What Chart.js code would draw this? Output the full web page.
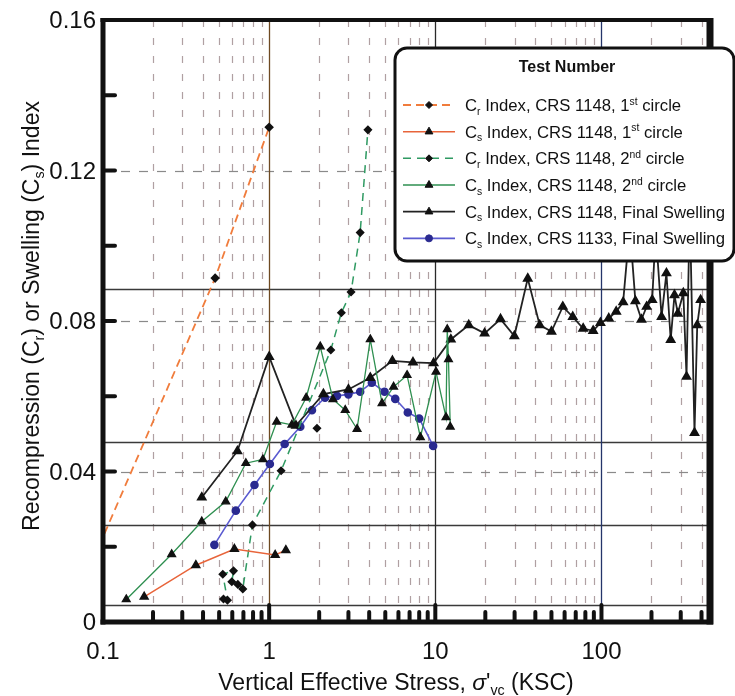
<!DOCTYPE html>
<html>
<head>
<meta charset="utf-8">
<script src="https://cdn.jsdelivr.net/npm/chart.js@4"></script>
<style>
  html, body { margin: 0; padding: 0; background: #fff; }
  canvas { display: block; }
</style>
</head>
<body>
<canvas id="grafico" width="735" height="696"></canvas>
<script>
// Valores (x = tensão em KSC, y = índice)
const crPrimeiroX = [0.095, 0.473, 1.0];
const crPrimeiroY = [0.0203, 0.0914, 0.1315];

const csPrimeiroX = [0.177, 0.362, 0.618, 1.087, 1.26];
const csPrimeiroY = [0.0067, 0.0151, 0.0194, 0.0178, 0.0191];

// o null separa o ponto solto do resto da linha
const crSegundoX = [1.94, 1.9, 0.531, 0.561, 0.526, 0.61, 0.596, 0.648, 0.694, 0.793, 1.18, 2.35, 2.72, 3.11, 3.53, 3.93];
const crSegundoY = [0.0515, null, 0.0061, 0.0058, 0.0127, 0.0136, 0.0107, 0.0100, 0.0088, 0.0258, 0.0402, 0.0723, 0.0822, 0.0877, 0.1035, 0.1308];

const csSegundoX = [0.138, 0.259, 0.393, 0.548, 0.724, 0.917, 1.11, 1.37, 1.67, 2.03, 2.42, 2.87, 3.38, 4.06, 4.78, 5.61, 6.76, 8.13, 10.1, 11.6, 11.8, 12.0, 12.3];
const csSegundoY = [0.006, 0.018, 0.0267, 0.032, 0.0422, 0.0432, 0.0532, 0.0524, 0.0596, 0.0732, 0.0592, 0.0563, 0.0513, 0.0751, 0.0581, 0.0625, 0.0656, 0.0491, 0.0665, 0.0544, 0.0778, 0.0698, 0.0519];

const csFinal1148X = [0.393, 0.644, 1.0, 1.45, 2.12, 3.0, 4.06, 5.52, 7.34, 9.77, 12.4, 15.9, 19.8, 24.7, 29.9, 36.0, 42.5, 50, 58.5, 67.2, 77.6, 89.1, 98.6, 110.7, 122.7, 135, 148, 160, 174, 187, 202, 212, 230, 246, 261, 275, 288, 311, 325, 340, 363, 377, 395];
const csFinal1148Y = [0.0331, 0.0454, 0.0705, 0.0522, 0.0606, 0.0618, 0.0649, 0.0694, 0.069, 0.0688, 0.0751, 0.0789, 0.0767, 0.0805, 0.076, 0.0913, 0.0789, 0.0772, 0.0838, 0.0811, 0.078, 0.0774, 0.0795, 0.0807, 0.0825, 0.085, 0.105, 0.0853, 0.0804, 0.0838, 0.0856, 0.104, 0.0811, 0.0927, 0.075, 0.0869, 0.082, 0.0874, 0.0652, 0.11, 0.0503, 0.0789, 0.0856];

const csFinal1133X = [0.468, 0.63, 0.816, 1.01, 1.24, 1.54, 1.81, 2.17, 2.56, 3.0, 3.53, 4.15, 4.95, 5.74, 6.83, 8.0, 9.7];
const csFinal1133Y = [0.0205, 0.0296, 0.0364, 0.042, 0.0473, 0.0519, 0.0563, 0.0596, 0.0601, 0.0605, 0.0612, 0.0636, 0.0612, 0.0593, 0.0557, 0.0541, 0.0468];

// eixos
const rotulosX = [0.1, 1, 10, 100];
const rotulosY = [0, 0.04, 0.08, 0.12, 0.16];
const marcasY = [0.02, 0.04, 0.06, 0.08, 0.10, 0.12, 0.14];
const marcasX = [0.2, 0.3, 0.4, 0.5, 0.6, 0.7, 0.8, 0.9, 2, 3, 4, 5, 6, 7, 8, 9, 20, 30, 40, 50, 60, 70, 80, 90, 200, 300, 400];
const linhasDecada = [1, 10, 100];
const gradeY = [0.04, 0.08, 0.12];
const linhasSolidasY = [0.0885, 0.0478, 0.0258, 0.0045];

const FONTE = '"Liberation Sans", Arial, sans-serif';

function pontos(xs, ys) {
    return xs.map((x, i) => ({ x: x, y: ys[i] }));
}

// texto com _{sub}, ^{sup} e ~{itálico}
function separarTexto(str) {
    const partes = [];
    const re = /([_^~])\{([^}]*)\}/g;
    let ultimo = 0, m;
    while ((m = re.exec(str))) {
        if (m.index > ultimo) partes.push({ t: str.slice(ultimo, m.index), k: '' });
        partes.push({ t: m[2], k: m[1] });
        ultimo = re.lastIndex;
    }
    if (ultimo < str.length) partes.push({ t: str.slice(ultimo), k: '' });
    return partes;
}

function fonte(k, tam, peso) {
    const s = (k === '_' || k === '^') ? tam * 0.62 : tam;
    const estilo = k === '~' ? 'italic ' : '';
    return estilo + peso + ' ' + s + 'px ' + FONTE;
}

function escreverRico(ctx, str, x, y, tam, alinhar, peso) {
    peso = peso || 'normal';
    const partes = separarTexto(str);
    let largura = 0;
    partes.forEach(p => {
        ctx.font = fonte(p.k, tam, peso);
        p.w = ctx.measureText(p.t).width;
        largura += p.w;
    });
    let cx = alinhar === 'center' ? x - largura / 2 : (alinhar === 'right' ? x - largura : x);
    ctx.textAlign = 'left';
    ctx.textBaseline = 'alphabetic';
    partes.forEach(p => {
        ctx.font = fonte(p.k, tam, peso);
        const dy = p.k === '_' ? tam * 0.22 : (p.k === '^' ? -tam * 0.38 : 0);
        ctx.fillText(p.t, cx, y + dy);
        cx += p.w;
    });
}

const molduraPlugin = {
    id: 'moldura',
    beforeDatasetsDraw(chart) {
        const { ctx, chartArea: a, scales: { x, y } } = chart;
        ctx.save();

        // grade vertical tracejada
        ctx.lineWidth = 1.2;
        ctx.strokeStyle = '#b0a0a2';
        ctx.setLineDash([7, 11]);
        marcasX.forEach(v => {
            const px = Math.round(x.getPixelForValue(v)) + 0.5;
            ctx.beginPath();
            ctx.moveTo(px, a.top);
            ctx.lineTo(px, a.bottom);
            ctx.stroke();
        });

        // grade horizontal tracejada
        ctx.strokeStyle = '#8a8a8a';
        ctx.setLineDash([9, 9]);
        gradeY.forEach(v => {
            const py = Math.round(y.getPixelForValue(v)) + 0.5;
            ctx.beginPath();
            ctx.moveTo(a.left, py);
            ctx.lineTo(a.right, py);
            ctx.stroke();
        });

        // linhas sólidas
        ctx.setLineDash([]);
        ctx.strokeStyle = '#3a3a3a';
        ctx.lineWidth = 1.3;
        linhasSolidasY.forEach(v => {
            const py = Math.round(y.getPixelForValue(v)) + 0.5;
            ctx.beginPath();
            ctx.moveTo(a.left, py);
            ctx.lineTo(a.right, py);
            ctx.stroke();
        });
        const coresDecada = ['#6e4a22', '#2a2a2a', '#25356a'];
        linhasDecada.forEach((v, i) => {
            const px = Math.round(x.getPixelForValue(v)) + 0.5;
            ctx.strokeStyle = coresDecada[i];
            ctx.beginPath();
            ctx.moveTo(px, a.top);
            ctx.lineTo(px, a.bottom);
            ctx.stroke();
        });
        ctx.restore();
    },
    afterDatasetsDraw(chart) {
        const { ctx, chartArea: a, scales: { x, y } } = chart;
        ctx.save();
        ctx.strokeStyle = '#111';
        ctx.lineCap = 'butt';

        // bordas
        ctx.lineWidth = 5;
        ctx.beginPath(); ctx.moveTo(a.left, a.top - 2); ctx.lineTo(a.left, a.bottom + 2.5); ctx.stroke();
        ctx.beginPath(); ctx.moveTo(a.left - 2.5, a.bottom); ctx.lineTo(a.right + 3, a.bottom); ctx.stroke();
        ctx.lineWidth = 4;
        ctx.beginPath(); ctx.moveTo(a.left - 2.5, a.top); ctx.lineTo(a.right + 3, a.top); ctx.stroke();
        ctx.lineWidth = 7;
        ctx.beginPath(); ctx.moveTo(a.right, a.top - 2); ctx.lineTo(a.right, a.bottom + 2.5); ctx.stroke();

        // marcas
        ctx.lineWidth = 4;
        ctx.lineCap = 'round';
        marcasX.forEach(v => {
            const px = x.getPixelForValue(v);
            ctx.beginPath(); ctx.moveTo(px, a.bottom); ctx.lineTo(px, a.bottom - 10); ctx.stroke();
        });
        linhasDecada.forEach(v => {
            const px = x.getPixelForValue(v);
            ctx.beginPath(); ctx.moveTo(px, a.bottom); ctx.lineTo(px, a.bottom - 17); ctx.stroke();
        });
        marcasY.forEach(v => {
            const py = y.getPixelForValue(v);
            ctx.beginPath(); ctx.moveTo(a.left, py); ctx.lineTo(a.left + 12, py); ctx.stroke();
        });

        // rótulos
        ctx.fillStyle = '#111';
        ctx.font = '24px ' + FONTE;
        ctx.textAlign = 'center';
        ctx.textBaseline = 'alphabetic';
        rotulosX.forEach(v => {
            ctx.fillText(String(v), x.getPixelForValue(v), a.bottom + 37);
        });
        ctx.textAlign = 'right';
        rotulosY.forEach(v => {
            ctx.fillText(String(v), a.left - 7, y.getPixelForValue(v) + 8);
        });

        // títulos dos eixos
        escreverRico(ctx, "Vertical Effective Stress, ~{σ}'_{vc} (KSC)", 396, 690, 23, 'center');
        ctx.save();
        ctx.translate(39, 316);
        ctx.rotate(-Math.PI / 2);
        escreverRico(ctx, 'Recompression (C_{r}) or Swelling (C_{s}) Index', 0, 0, 23, 'center');
        ctx.restore();
        ctx.restore();
    },
    afterDraw(chart) {
        const ctx = chart.ctx;
        ctx.save();
        // caixa da legenda
        const bx = 395, by = 48, bw = 339, bh = 213, r = 12;
        ctx.beginPath();
        ctx.roundRect(bx, by, bw, bh, r);
        ctx.fillStyle = '#fff';
        ctx.fill();
        ctx.lineWidth = 3;
        ctx.strokeStyle = '#111';
        ctx.stroke();

        ctx.fillStyle = '#111';
        escreverRico(ctx, 'Test Number', 567, 72, 16, 'center', 'bold');

        chart.data.datasets.forEach((ds, i) => {
            const cy = 105 + i * 26.67;
            ctx.save();
            ctx.strokeStyle = ds.borderColor;
            ctx.lineWidth = ds.borderWidth;
            ctx.setLineDash(ds.borderDash || []);
            ctx.beginPath();
            ctx.moveTo(403, cy);
            ctx.lineTo(455, cy);
            ctx.stroke();
            ctx.setLineDash([]);
            ctx.fillStyle = ds.pointBackgroundColor;
            ctx.strokeStyle = ds.pointBorderColor;
            ctx.lineWidth = 1;
            Chart.helpers.drawPoint(ctx, {
                pointStyle: ds.pointStyle,
                radius: ds.legendaRaio,
                rotation: 0,
                borderWidth: 1
            }, 429, cy);
            ctx.restore();
            ctx.fillStyle = '#111';
            escreverRico(ctx, ds.label, 465, cy + 6, 16.7, 'left');
        });
        ctx.restore();
    }
};

const ctx = document.getElementById('grafico').getContext('2d');
const chart = new Chart(ctx, {
    type: 'line',
    data: {
        datasets: [
            {
                label: 'C_{r} Index, CRS 1148, 1^{st} circle',
                data: pontos(crPrimeiroX, crPrimeiroY),
                borderColor: '#f07c3c',
                borderWidth: 1.8,
                borderDash: [8, 5],
                pointStyle: 'rectRot',
                pointRadius: 3.5,
                legendaRaio: 3.5,
                pointBackgroundColor: '#111',
                pointBorderColor: '#111'
            },
            {
                label: 'C_{s} Index, CRS 1148, 1^{st} circle',
                data: pontos(csPrimeiroX, csPrimeiroY),
                borderColor: '#e8643a',
                borderWidth: 1.5,
                pointStyle: 'triangle',
                pointRadius: 4.5,
                legendaRaio: 4.5,
                pointBackgroundColor: '#111',
                pointBorderColor: '#111'
            },
            {
                label: 'C_{r} Index, CRS 1148, 2^{nd} circle',
                data: pontos(crSegundoX, crSegundoY),
                borderColor: '#2f9a62',
                borderWidth: 1.5,
                borderDash: [8, 6],
                pointStyle: 'rectRot',
                pointRadius: 3.5,
                legendaRaio: 3.5,
                pointBackgroundColor: '#111',
                pointBorderColor: '#111'
            },
            {
                label: 'C_{s} Index, CRS 1148, 2^{nd} circle',
                data: pontos(csSegundoX, csSegundoY),
                borderColor: '#2e8f50',
                borderWidth: 1.3,
                pointStyle: 'triangle',
                pointRadius: 4.5,
                legendaRaio: 4.5,
                pointBackgroundColor: '#111',
                pointBorderColor: '#111'
            },
            {
                label: 'C_{s} Index, CRS 1148, Final Swelling',
                data: pontos(csFinal1148X, csFinal1148Y),
                borderColor: '#222',
                borderWidth: 1.8,
                pointStyle: 'triangle',
                pointRadius: 4.5,
                legendaRaio: 4.5,
                pointBackgroundColor: '#111',
                pointBorderColor: '#111'
            },
            {
                label: 'C_{s} Index, CRS 1133, Final Swelling',
                data: pontos(csFinal1133X, csFinal1133Y),
                borderColor: '#5a5ad0',
                borderWidth: 1.6,
                pointStyle: 'circle',
                pointRadius: 3.5,
                legendaRaio: 3.5,
                pointBackgroundColor: '#2a2a90',
                pointBorderColor: '#2a2a90'
            }
        ]
    },
    options: {
        responsive: false,
        animation: false,
        devicePixelRatio: 1,
        layout: { padding: { left: 103, right: 25, top: 20, bottom: 74 } },
        scales: {
            x: { type: 'logarithmic', min: 0.1, max: 450, display: false },
            y: { type: 'linear', min: 0, max: 0.16, display: false }
        },
        plugins: {
            legend: { display: false },
            tooltip: { enabled: false }
        },
        elements: { line: { tension: 0 } }
    },
    plugins: [molduraPlugin]
});
</script>
</body>
</html>
